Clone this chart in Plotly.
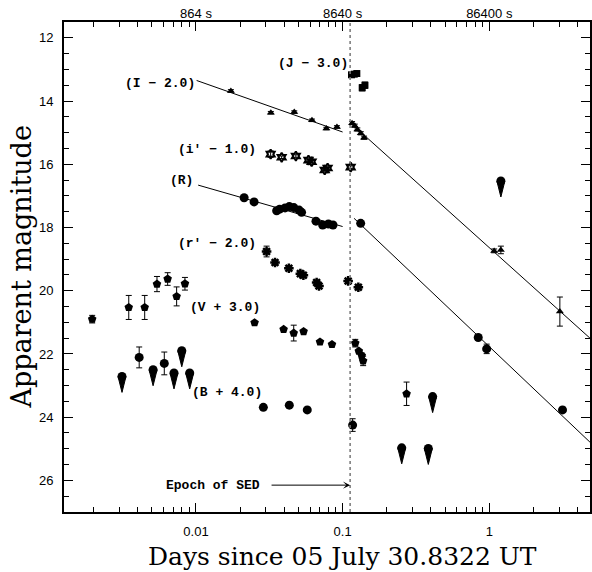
import math
import plotly.graph_objects as go

# ---------------- data ----------------
t_I = [0.0173, 0.0324, 0.0468, 0.0618, 0.0775, 0.0915, 0.116, 0.121, 0.126, 0.133, 0.140, 1.08, 1.20, 3.03]
mag_I = [13.68, 14.37, 14.35, 14.61, 14.87, 14.82, 14.70, 14.78, 14.90, 15.02, 15.16, 18.74, 18.71, 20.66]
err_I = [0.04, 0.04, 0.04, 0.04, 0.04, 0.04, 0.05, 0.05, 0.05, 0.05, 0.05, 0.06, 0.12, 0.46]

t_J = [0.115, 0.120, 0.125, 0.136, 0.142]
mag_J = [13.17, 13.15, 13.13, 13.58, 13.50]
err_J = [0.06, 0.06, 0.06, 0.10, 0.10]

t_ip = [0.0323, 0.0384, 0.048, 0.0585, 0.0615, 0.0755, 0.079, 0.1135]
mag_ip = [15.68, 15.78, 15.74, 15.87, 15.92, 16.18, 16.12, 16.09]
err_ip = [0.10, 0.04, 0.04, 0.04, 0.04, 0.04, 0.04, 0.04]

t_R = [0.0213, 0.0249, 0.0355, 0.0372, 0.0405, 0.0433, 0.0465, 0.0505, 0.0525,
       0.0658, 0.0731, 0.0800, 0.0860, 0.1328, 0.841, 0.96, 3.16]
mag_R = [17.06, 17.19, 17.47, 17.42, 17.38, 17.34, 17.37, 17.45, 17.52,
         17.80, 17.92, 17.89, 17.92, 17.87, 21.48, 21.84, 23.77]
err_R = [0.05, 0.08, 0.05, 0.05, 0.05, 0.05, 0.05, 0.05, 0.05,
         0.04, 0.04, 0.04, 0.04, 0.04, 0.05, 0.15, 0.08]

t_rp = [0.0303, 0.0346, 0.043, 0.0515, 0.0540, 0.0665, 0.0690, 0.109, 0.128]
mag_rp = [18.76, 19.11, 19.29, 19.46, 19.51, 19.74, 19.85, 19.69, 19.89]
err_rp = [0.17, 0.08, 0.04, 0.04, 0.04, 0.04, 0.04, 0.04, 0.04]

t_V = [0.00196, 0.00348, 0.00447, 0.00542, 0.00641, 0.00738, 0.00841, 0.0251, 0.0396,
       0.0464, 0.0542, 0.0701, 0.0846, 0.122, 0.129, 0.135, 0.138, 0.273]
mag_V = [20.90, 20.53, 20.53, 19.79, 19.63, 20.18, 19.78, 21.01, 21.22,
         21.34, 21.29, 21.62, 21.70, 21.66, 21.91, 22.05, 22.22, 23.26]
err_V = [0.12, 0.38, 0.38, 0.24, 0.20, 0.30, 0.20, 0.03, 0.03,
         0.25, 0.03, 0.03, 0.03, 0.12, 0.05, 0.08, 0.15, 0.37]

t_B = [0.0041, 0.00608, 0.0288, 0.0433, 0.0574, 0.117]
mag_B = [22.11, 22.30, 23.69, 23.62, 23.77, 24.25]
err_B = [0.33, 0.36, 0.03, 0.03, 0.03, 0.20]

# upper limits
t_ul = [0.00313, 0.0051, 0.00708, 0.0080, 0.00906, 0.253, 0.384, 0.411, 1.20]
mag_ul = [22.71, 22.50, 22.60, 21.90, 22.60, 24.97, 24.99, 23.35, 16.53]

# power-law fits (endpoints)
fit_I_early_t = [0.0101, 0.100]
fit_I_early_mag = [13.35, 14.98]
fit_I_late_t = [0.1125, 4.86]
fit_I_late_mag = [14.68, 21.50]
fit_R_early_t = [0.01035, 0.100]
fit_R_early_mag = [16.66, 17.97]
fit_R_late_t = [0.1197, 4.86]
fit_R_late_mag = [17.71, 24.79]

t_epoch = 0.1125
epoch_arrow_start = 0.032
epoch_level = 26.15

x_tickvals = [0.01, 0.1, 1]
x_ticktext = ["0.01", "0.1", "1"]
top_ticktext = ["864 s", "8640 s", "86400 s"]
y_tickvals = [12, 14, 16, 18, 20, 22, 24, 26]

# band labels: (text, t at right end, mag)
labels = [
    ("(I − 2.0)", 0.0101, 13.43),
    ("(J − 3.0)", 0.113, 12.82),
    ("(i' − 1.0)", 0.0265, 15.53),
    ("(R)", 0.0099, 16.52),
    ("(r' − 2.0)", 0.0265, 18.50),
    ("(V + 3.0)", 0.0280, 20.52),
    ("(B + 4.0)", 0.0292, 23.21),
]

# ---------------- figure ----------------
fig = go.Figure()

def line(tt, mm):
    fig.add_trace(go.Scatter(x=tt, y=mm, mode="lines",
                             line=dict(color="black", width=1), hoverinfo="skip"))

line(fit_I_early_t, fit_I_early_mag)
line(fit_I_late_t, fit_I_late_mag)
line(fit_R_early_t, fit_R_early_mag)
line(fit_R_late_t, fit_R_late_mag)

def pts(tt, mm, ee, symbol, size, lw=0):
    fig.add_trace(go.Scatter(
        x=tt, y=mm, mode="markers",
        marker=dict(symbol=symbol, size=size, color="black",
                    line=dict(color="black", width=lw)),
        error_y=dict(type="data", array=ee, color="black", thickness=1, width=3),
    ))

pts(t_I, mag_I, err_I, "triangle-up", 7)
pts(t_J, mag_J, err_J, "square", 7)
pts(t_ip, mag_ip, err_ip, "hexagram-open", 7, 2)
pts(t_R, mag_R, err_R, "circle", 9)
pts(t_rp, mag_rp, err_rp, "asterisk-open", 8, 2.5)
pts(t_V, mag_V, err_V, "pentagon", 9)
pts(t_B, mag_B, err_B, "circle", 9)

# upper limits: circle + downward arrow (pixel-sized shape anchored at data)
fig.add_trace(go.Scatter(x=t_ul, y=mag_ul, mode="markers",
                         marker=dict(symbol="circle", size=9, color="black")))
shapes = []
for tt, mm in zip(t_ul, mag_ul):
    shapes.append(dict(type="path", xref="x", yref="y",
                       xsizemode="pixel", ysizemode="pixel",
                       xanchor=tt, yanchor=mm,
                       path="M -4,0 L 4,0 L 0,-16 Z",
                       fillcolor="black", line=dict(color="black", width=1),
                       layer="above"))

# epoch dotted line
shapes.append(dict(type="line", xref="x", yref="paper", x0=t_epoch, x1=t_epoch,
                   y0=0, y1=1, line=dict(color="#777777", width=1.5, dash="dot")))

annotations = []
for txt, tt, mm in labels:
    annotations.append(dict(x=math.log10(tt), y=mm, xref="x", yref="y",
                            text="<b>" + txt + "</b>",
                            showarrow=False, xanchor="right", yanchor="middle",
                            font=dict(family="Liberation Mono", size=13, color="black")))
annotations.append(dict(x=math.log10(epoch_arrow_start), y=epoch_level, xref="x", yref="y",
                        text="<b>Epoch of SED</b>", showarrow=False, xanchor="right",
                        xshift=-8, yanchor="middle",
                        font=dict(family="Liberation Mono", size=13, color="black")))
annotations.append(dict(x=math.log10(t_epoch), y=epoch_level, xref="x", yref="y",
                        ax=math.log10(epoch_arrow_start), ay=epoch_level,
                        axref="x", ayref="y", text="", showarrow=True,
                        arrowhead=3, arrowsize=1.2, arrowwidth=1, arrowcolor="black"))

annotations.append(dict(x=0.5, y=0, xref="paper", yref="paper", yanchor="top",
                        xshift=15, yshift=-28,
                        text="Days since 05 July 30.8322 UT", showarrow=False,
                        font=dict(family="DejaVu Serif", size=25, color="black")))
annotations.append(dict(x=0, y=0.5, xref="paper", yref="paper", xanchor="right",
                        xshift=-26, textangle=-90,
                        text="Apparent magnitude", showarrow=False,
                        font=dict(family="DejaVu Serif", size=27, color="black")))

minor_x = []
for dec in [0.001, 0.01, 0.1, 1]:
    for k in range(2, 10):
        minor_x.append(dec * k)

xr = [-2.9, 0.687]
fig.update_layout(
    width=592, height=572,
    margin=dict(l=64, r=2, t=22, b=60),
    paper_bgcolor="white", plot_bgcolor="white",
    showlegend=False,
    shapes=shapes,
    annotations=annotations,
    xaxis=dict(type="log", range=xr, tickmode="array", tickvals=x_tickvals,
               ticktext=x_ticktext, ticks="inside", ticklen=9, tickwidth=1,
               tickcolor="black", showgrid=False, zeroline=False, automargin=False,
               showline=True, linecolor="black", linewidth=2, mirror="ticks",
               ticklabelstandoff=6,
               tickfont=dict(family="Liberation Sans", size=13, color="black"),
               minor=dict(tickmode="array", tickvals=minor_x, ticks="inside",
                          ticklen=5, tickcolor="black", showgrid=False)),
    xaxis2=dict(type="log", range=xr, overlaying="x", side="top", automargin=False,
                tickmode="array", tickvals=x_tickvals, ticktext=top_ticktext,
                ticks="", showgrid=False, zeroline=False, showline=False,
                tickfont=dict(family="Liberation Sans", size=13, color="black")),
    yaxis=dict(range=[27.0, 11.5], tickmode="array", tickvals=y_tickvals,
               ticks="inside", ticklen=9, tickcolor="black", showgrid=False,
               zeroline=False, showline=True, linecolor="black", linewidth=2,
               mirror="ticks", ticklabelstandoff=6, automargin=False,
               tickfont=dict(family="Liberation Sans", size=13, color="black"),
               minor=dict(dtick=0.5, ticks="inside", ticklen=5, tickcolor="black",
                          showgrid=False)),
)
# dummy trace to activate top axis
fig.add_trace(go.Scatter(x=[0.01], y=[12], xaxis="x2", mode="markers",
                         marker=dict(opacity=0), hoverinfo="skip"))

fig.write_html("out.html", config={"displayModeBar": False},
               post_script="document.body.style.margin='0px';document.body.style.overflow='hidden';")
